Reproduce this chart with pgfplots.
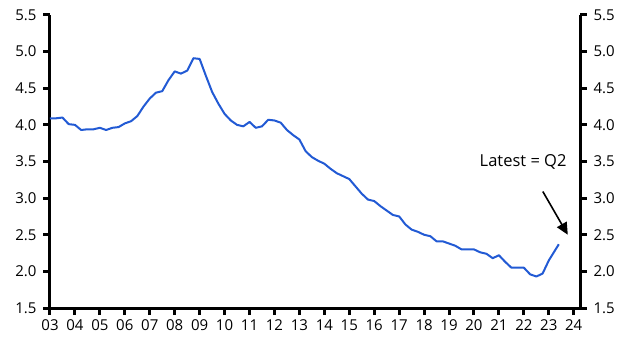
\documentclass[border=0pt]{standalone}
\usepackage{pgfplots}
\pgfplotsset{compat=1.18}
\usepackage{fontspec}
\setmainfont{Open Sans}
\usetikzlibrary{arrows.meta}
\definecolor{lineblue}{RGB}{34,90,212}
\pgfplotstableread{
x y
2003.00 4.09
2003.25 4.09
2003.50 4.10
2003.75 4.01
2004.00 4.00
2004.25 3.93
2004.50 3.94
2004.75 3.94
2005.00 3.96
2005.25 3.93
2005.50 3.96
2005.75 3.97
2006.00 4.02
2006.25 4.05
2006.50 4.12
2006.75 4.25
2007.00 4.36
2007.25 4.44
2007.50 4.46
2007.75 4.61
2008.00 4.73
2008.25 4.70
2008.50 4.74
2008.75 4.91
2009.00 4.90
2009.25 4.67
2009.50 4.45
2009.75 4.29
2010.00 4.15
2010.25 4.06
2010.50 4.00
2010.75 3.98
2011.00 4.04
2011.25 3.96
2011.50 3.98
2011.75 4.07
2012.00 4.06
2012.25 4.03
2012.50 3.93
2012.75 3.86
2013.00 3.80
2013.25 3.64
2013.50 3.56
2013.75 3.51
2014.00 3.47
2014.25 3.40
2014.50 3.34
2014.75 3.30
2015.00 3.26
2015.25 3.16
2015.50 3.06
2015.75 2.98
2016.00 2.96
2016.25 2.89
2016.50 2.83
2016.75 2.77
2017.00 2.75
2017.25 2.64
2017.50 2.57
2017.75 2.54
2018.00 2.50
2018.25 2.48
2018.50 2.41
2018.75 2.41
2019.00 2.38
2019.25 2.35
2019.50 2.30
2019.75 2.30
2020.00 2.30
2020.25 2.26
2020.50 2.24
2020.75 2.18
2021.00 2.22
2021.25 2.13
2021.50 2.05
2021.75 2.05
2022.00 2.05
2022.25 1.96
2022.50 1.93
2022.75 1.97
2023.00 2.15
2023.20 2.26
2023.40 2.37
}\datatable
\begin{document}
\begin{tikzpicture}
\pgfplotsset{
  common/.style={
    scale only axis, width=530pt, height=293pt,
    xmin=2003, xmax=2024.25, ymin=1.5, ymax=5.5,
    ytick={1.5,2,...,5.5},
    yticklabel={\pgfmathprintnumber[fixed,fixed zerofill,precision=1,assume math mode=true]{\tick}},
    tick align=outside,
    major tick length=7pt,
    every tick/.style={black, line width=3pt},
    axis line style={black, line width=3pt},
    tick label style={font=\fontsize{15}{18}\selectfont, black},
    clip=false,
  }
}
\begin{axis}[common,
  axis x line*=bottom, axis y line*=left,
  xtick={2003,...,2024},
  xticklabels={03,04,05,06,07,08,09,10,11,12,13,14,15,16,17,18,19,20,21,22,23,24},
  xticklabel style={yshift=-1pt},
  yticklabel style={xshift=-3pt},
]
\addplot[lineblue, line width=2pt, line join=round] table[x=x,y=y] {\datatable};
\node[font=\fontsize{16.5}{19}\selectfont, anchor=base] at (axis cs:2021.97,3.43) {Latest = Q2};
\draw[line width=1.6pt, -{Triangle[length=12pt,width=11pt]}] (axis cs:2022.76,3.09) -- (axis cs:2023.76,2.50);
\end{axis}
\begin{axis}[common,
  axis x line=none, axis y line*=right,
  yticklabel pos=right,
  yticklabel style={xshift=3pt},
]
\addplot[draw=none] coordinates {(2003,2) (2024,3)};
\end{axis}
\path (-50pt,-46pt) rectangle (584pt,308pt);
\end{tikzpicture}
\end{document}
